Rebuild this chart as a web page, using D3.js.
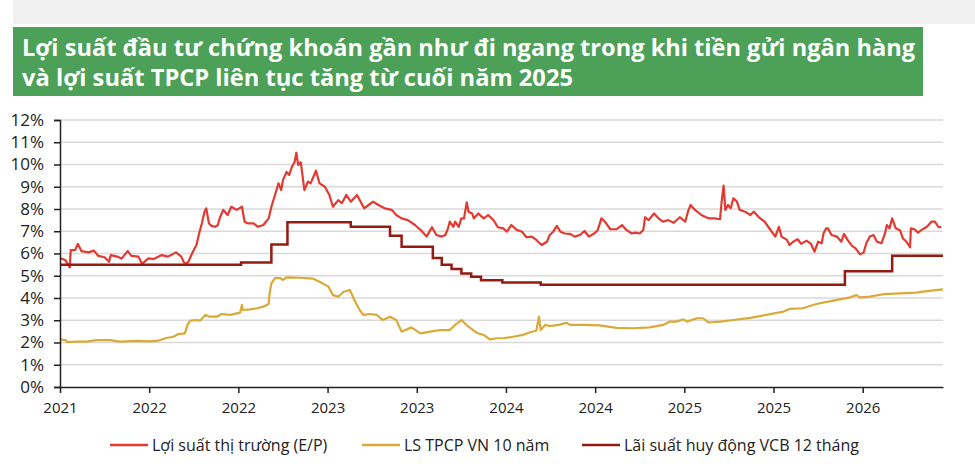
<!DOCTYPE html>
<html>
<head>
<meta charset="utf-8">
<script src="https://cdn.jsdelivr.net/npm/d3@7"></script>
<style>
  body { margin: 0; background: #fff; }
  svg { display: block; font-family: "Open Sans", "Noto Sans", sans-serif; }
</style>
</head>
<body>
<script>
// x is measured in axis periods (one labelled tick = one period)
const tickLabels = ["2021", "2022", "2022", "2023", "2023", "2024", "2024", "2025", "2025", "2026"];
const yTicks = [0, 1, 2, 3, 4, 5, 6, 7, 8, 9, 10, 11, 12];

const titleLines = [
  "Lợi suất đầu tư chứng khoán gần như đi ngang trong khi tiền gửi ngân hàng",
  "và lợi suất TPCP liên tục tăng từ cuối năm 2025"
];

const seriesNames = ["Lợi suất thị trường (E/P)", "LS TPCP VN 10 năm", "Lãi suất huy động VCB 12 tháng"];

// Lợi suất thị trường (E/P)
const epYield = [
  [0.00, 5.8], [0.06, 5.7], [0.11, 5.38], [0.12, 6.15], [0.17, 6.15], [0.20, 6.43], [0.24, 6.11],
  [0.32, 6.05], [0.38, 6.13], [0.43, 5.89], [0.50, 5.83], [0.55, 5.63], [0.57, 5.93], [0.64, 5.86],
  [0.69, 5.77], [0.76, 6.11], [0.80, 5.89], [0.88, 5.86], [0.92, 5.53], [0.99, 5.78], [1.05, 5.75],
  [1.14, 5.93], [1.21, 5.86], [1.30, 6.05], [1.36, 5.86], [1.40, 5.51], [1.44, 5.63], [1.48, 6.0],
  [1.53, 6.38], [1.56, 6.9], [1.59, 7.35], [1.62, 7.88], [1.64, 8.03], [1.67, 7.35], [1.70, 7.24],
  [1.74, 7.2], [1.77, 7.28], [1.79, 7.58], [1.83, 7.96], [1.88, 7.73], [1.92, 8.1], [1.98, 7.96],
  [2.04, 8.1], [2.07, 7.43], [2.11, 7.35], [2.17, 7.35], [2.22, 7.2], [2.28, 7.28], [2.34, 7.58],
  [2.37, 8.1], [2.41, 8.63], [2.45, 9.15], [2.48, 8.85], [2.50, 9.3], [2.54, 9.67], [2.57, 9.53],
  [2.60, 9.9], [2.63, 10.1], [2.65, 10.53], [2.67, 9.98], [2.70, 10.1], [2.74, 8.85], [2.78, 9.23],
  [2.81, 9.15], [2.87, 9.72], [2.91, 9.15], [2.97, 9.0], [3.02, 8.63], [3.06, 8.1], [3.12, 8.4],
  [3.16, 8.26], [3.21, 8.63], [3.26, 8.33], [3.33, 8.63], [3.36, 8.4], [3.41, 8.03], [3.46, 8.18],
  [3.51, 8.33], [3.57, 8.18], [3.64, 8.03], [3.72, 7.96], [3.77, 7.73], [3.83, 7.58], [3.90, 7.5],
  [3.98, 7.28], [4.05, 7.03], [4.11, 6.76], [4.17, 7.18], [4.22, 6.83], [4.28, 6.76], [4.32, 6.83],
  [4.35, 7.13], [4.37, 7.43], [4.41, 7.2], [4.43, 7.43], [4.47, 7.2], [4.50, 7.58], [4.53, 7.58],
  [4.56, 8.3], [4.58, 7.88], [4.62, 7.8], [4.64, 7.58], [4.69, 7.8], [4.75, 7.58], [4.80, 7.73],
  [4.86, 7.5], [4.91, 7.18], [4.97, 7.13], [5.01, 6.98], [5.06, 7.28], [5.12, 7.06], [5.18, 6.98],
  [5.23, 6.73], [5.29, 6.76], [5.34, 6.61], [5.40, 6.38], [5.46, 6.53], [5.49, 6.83], [5.53, 6.98],
  [5.57, 7.24], [5.61, 6.98], [5.66, 6.9], [5.72, 6.88], [5.77, 6.76], [5.83, 6.83], [5.88, 7.01],
  [5.93, 6.76], [5.99, 6.9], [6.03, 7.06], [6.07, 7.58], [6.11, 7.43], [6.17, 7.09], [6.24, 7.09],
  [6.30, 7.28], [6.35, 7.06], [6.41, 6.9], [6.45, 6.94], [6.50, 6.9], [6.54, 7.06], [6.56, 7.63],
  [6.60, 7.5], [6.66, 7.8], [6.71, 7.58], [6.76, 7.43], [6.82, 7.5], [6.88, 7.38], [6.95, 7.63],
  [7.01, 7.43], [7.04, 7.88], [7.07, 8.18], [7.12, 7.96], [7.19, 7.73], [7.27, 7.58], [7.34, 7.58],
  [7.40, 7.54], [7.42, 8.4], [7.44, 9.05], [7.46, 7.96], [7.49, 8.18], [7.52, 8.03], [7.55, 8.48],
  [7.59, 8.33], [7.62, 7.96], [7.68, 7.88], [7.74, 7.73], [7.78, 7.88], [7.83, 7.65], [7.90, 7.43],
  [7.96, 7.09], [8.02, 6.76], [8.06, 7.2], [8.09, 6.76], [8.15, 6.61], [8.18, 6.38], [8.22, 6.53],
  [8.27, 6.64], [8.31, 6.43], [8.37, 6.58], [8.42, 6.43], [8.46, 6.08], [8.50, 6.53], [8.54, 6.46],
  [8.56, 6.9], [8.59, 7.13], [8.61, 7.13], [8.65, 6.83], [8.71, 6.76], [8.76, 6.53], [8.79, 6.88],
  [8.83, 6.61], [8.88, 6.34], [8.92, 6.23], [8.97, 5.96], [9.01, 6.04], [9.04, 6.46], [9.08, 6.76],
  [9.12, 6.83], [9.16, 6.53], [9.21, 6.46], [9.25, 6.9], [9.27, 7.28], [9.30, 7.13], [9.33, 7.58],
  [9.37, 7.13], [9.42, 7.03], [9.45, 6.68], [9.49, 6.53], [9.53, 6.28], [9.54, 7.13], [9.58, 7.09],
  [9.62, 6.94], [9.66, 7.06], [9.72, 7.2], [9.77, 7.43], [9.81, 7.43], [9.85, 7.18], [9.88, 7.2]
];

// LS TPCP VN 10 năm
const bondYield = [
  [0.00, 2.14], [0.06, 2.11], [0.08, 2.02], [0.19, 2.04], [0.30, 2.04], [0.41, 2.11], [0.56, 2.11],
  [0.67, 2.04], [0.86, 2.07], [1.01, 2.05], [1.10, 2.08], [1.18, 2.19], [1.27, 2.26], [1.33, 2.38],
  [1.40, 2.41], [1.43, 2.79], [1.46, 2.98], [1.53, 3.01], [1.57, 2.98], [1.63, 3.24], [1.68, 3.16],
  [1.76, 3.16], [1.81, 3.28], [1.91, 3.24], [2.02, 3.34], [2.04, 3.69], [2.05, 3.46], [2.13, 3.49],
  [2.21, 3.54], [2.28, 3.61], [2.34, 3.73], [2.35, 4.21], [2.37, 4.66], [2.41, 4.89], [2.47, 4.89],
  [2.50, 4.81], [2.54, 4.93], [2.69, 4.91], [2.84, 4.87], [2.91, 4.73], [3.01, 4.51], [3.06, 4.13],
  [3.12, 4.06], [3.18, 4.28], [3.25, 4.36], [3.31, 3.83], [3.36, 3.46], [3.40, 3.24], [3.48, 3.28],
  [3.55, 3.24], [3.62, 3.01], [3.70, 3.16], [3.77, 3.01], [3.83, 2.49], [3.89, 2.59], [3.94, 2.68],
  [4.04, 2.41], [4.15, 2.49], [4.26, 2.56], [4.37, 2.56], [4.43, 2.79], [4.50, 3.01], [4.58, 2.71],
  [4.67, 2.44], [4.75, 2.34], [4.82, 2.14], [4.90, 2.19], [4.97, 2.19], [5.08, 2.26], [5.19, 2.34],
  [5.27, 2.46], [5.34, 2.53], [5.37, 3.16], [5.39, 2.56], [5.44, 2.79], [5.49, 2.74], [5.59, 2.79],
  [5.68, 2.89], [5.72, 2.79], [5.87, 2.79], [6.05, 2.77], [6.24, 2.66], [6.43, 2.64], [6.61, 2.68],
  [6.76, 2.79], [6.84, 2.94], [6.91, 2.94], [6.99, 3.04], [7.03, 2.94], [7.14, 3.09], [7.21, 3.09],
  [7.27, 2.9], [7.40, 2.94], [7.55, 3.01], [7.74, 3.11], [7.92, 3.24], [8.11, 3.39], [8.18, 3.51],
  [8.33, 3.54], [8.48, 3.73], [8.67, 3.88], [8.86, 4.03], [8.93, 4.13], [8.97, 4.03], [9.08, 4.06],
  [9.23, 4.17], [9.42, 4.21], [9.60, 4.24], [9.72, 4.31], [9.90, 4.39]
];

// Lãi suất huy động VCB 12 tháng (step series)
const depositRate = [
  [0.00, 5.5], [2.03, 5.6], [2.37, 6.4], [2.55, 7.4], [3.26, 7.2], [3.70, 6.8], [3.83, 6.3],
  [4.18, 5.8], [4.28, 5.5], [4.39, 5.3], [4.50, 5.1], [4.61, 4.95], [4.72, 4.8], [4.96, 4.7],
  [5.39, 4.6], [8.80, 5.2], [9.33, 5.9], [9.90, 5.9]
];

const colors = ["#e23a30", "#d9aa38", "#951a12"];

const W = 975, H = 466;
const svg = d3.select("body").append("svg").attr("width", W).attr("height", H);

// header
svg.append("rect").attr("x", 13).attr("y", 0).attr("width", W - 13).attr("height", 24).attr("fill", "#f0f0f0");
svg.append("rect").attr("x", 13).attr("y", 27).attr("width", 910).attr("height", 69).attr("fill", "#4ca058");

const titleWidths = [893, 551];
titleLines.forEach((t, i) => {
  svg.append("text")
    .attr("x", 22)
    .attr("y", 56 + i * 30)
    .attr("fill", "#fff")
    .attr("font-size", 23)
    .attr("font-weight", 700)
    .attr("textLength", titleWidths[i])
    .attr("lengthAdjust", "spacingAndGlyphs")
    .text(t);
});

const x = d3.scaleLinear().domain([0, 9.9]).range([60, 943]);
const y = d3.scaleLinear().domain([0, 12]).range([387, 120]);

// gridlines
svg.append("g")
  .selectAll("line")
  .data(yTicks.filter(d => d > 0))
  .join("line")
  .attr("x1", x(0)).attr("x2", x(9.9))
  .attr("y1", d => y(d)).attr("y2", d => y(d))
  .attr("stroke", "#d9d9d9")
  .attr("stroke-width", 1.5);

const line = d3.line().x(d => x(d[0])).y(d => y(d[1]));

svg.append("path")
  .datum(bondYield)
  .attr("fill", "none")
  .attr("stroke", colors[1])
  .attr("stroke-width", 2.2)
  .attr("stroke-linejoin", "round")
  .attr("d", line);

svg.append("path")
  .datum(epYield)
  .attr("fill", "none")
  .attr("stroke", colors[0])
  .attr("stroke-width", 2.2)
  .attr("stroke-linejoin", "round")
  .attr("d", line);

svg.append("path")
  .datum(depositRate)
  .attr("fill", "none")
  .attr("stroke", colors[2])
  .attr("stroke-width", 2.5)
  .attr("d", line.curve(d3.curveStepAfter));

// axes
const yAxis = svg.append("g")
  .attr("transform", `translate(${x(0)},0)`)
  .call(d3.axisLeft(y).tickValues(yTicks).tickFormat(d => d + "%").tickSize(6).tickPadding(10));
yAxis.select(".domain").attr("stroke", "#222").attr("stroke-width", 1.5);
yAxis.selectAll(".tick line").attr("stroke", "#222").attr("stroke-width", 1.5);
yAxis.selectAll("text").attr("font-size", 17).attr("fill", "#222").attr("font-family", "Open Sans");

const xAxis = svg.append("g")
  .attr("transform", `translate(0,${y(0)})`)
  .call(d3.axisBottom(x).tickValues(d3.range(tickLabels.length)).tickFormat(i => tickLabels[i]).tickSize(6).tickSizeOuter(0).tickPadding(9));
xAxis.select(".domain").attr("stroke", "#222").attr("stroke-width", 1.5);
xAxis.selectAll(".tick line").attr("stroke", "#222").attr("stroke-width", 1.5);
xAxis.selectAll("text").attr("font-size", 15).attr("fill", "#222").attr("font-family", "Open Sans");

// legend
const legendX = [110, 362, 582];
const legend = svg.append("g");
seriesNames.forEach((name, i) => {
  legend.append("line")
    .attr("x1", legendX[i]).attr("x2", legendX[i] + 38)
    .attr("y1", 445).attr("y2", 445)
    .attr("stroke", colors[i]).attr("stroke-width", 2.5);
  legend.append("text")
    .attr("x", legendX[i] + 42).attr("y", 451)
    .attr("font-size", 16).attr("fill", "#222")
    .text(name);
});
</script>
</body>
</html>
